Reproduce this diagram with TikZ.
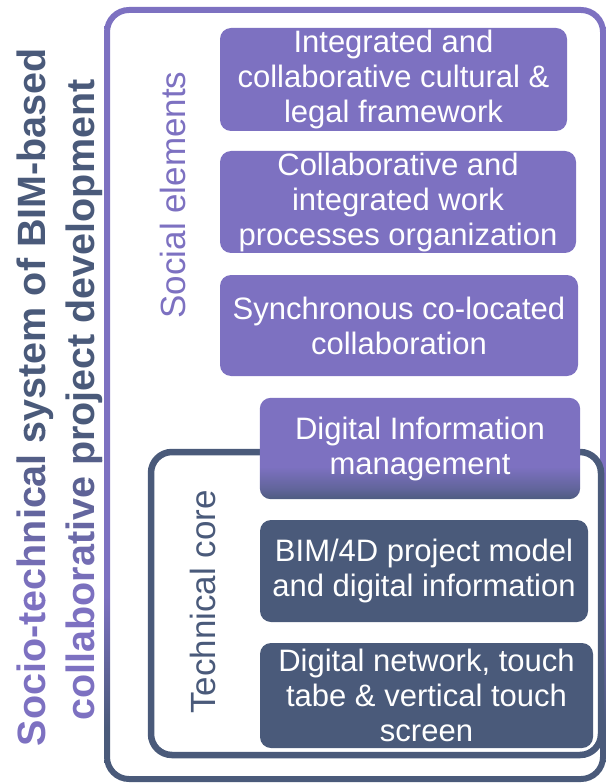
\documentclass[tikz,border=0pt]{standalone}
\usepackage{fontspec}
\setmainfont{Liberation Sans}
\definecolor{purp}{HTML}{7D71C1}
\definecolor{slate}{HTML}{4A5A7A}
% path bounding box maps onto 25bp..75bp of the shading
\pgfdeclareverticalshading{frameshade}{100bp}{color(0bp)=(slate); color(28.5bp)=(slate); color(37bp)=(purp); color(100bp)=(purp)}
\pgfdeclareverticalshading{dimshade}{100bp}{color(0bp)=(slate); color(25bp)=(slate!92!purp); color(30bp)=(slate!55!purp); color(41bp)=(purp); color(100bp)=(purp)}
\pgfdeclarelayer{background}
\pgfsetlayers{background,main}
\tikzset{
  box/.style={rounded corners=11pt, inner sep=0pt, text=white, align=center,
    font=\fontsize{31}{35}\selectfont},
  titlefont/.style={font=\fontsize{39.5}{44}\selectfont\bfseries, rotate=90, anchor=base, inner sep=0pt},
  sidelabel/.style={font=\fontsize{35}{40}\selectfont, rotate=90, anchor=base, inner sep=0pt},
}
\newcommand\titlelines[1]{%
  \node[titlefont, text=#1] (tA) at (45,397) {Socio-technical system of BIM-based};
  \node[titlefont, text=#1] (tB) at (94,400) {collaborative project development};}
\begin{document}
\begin{tikzpicture}[x=1pt, y=-1pt]
\useasboundingbox (0,0) rectangle (605,783);
\begin{pgfonlayer}{background}
% outer frame
\shade[shading=frameshade, even odd rule]
  [rounded corners=25pt] (104,7) rectangle (606,782)
  [rounded corners=19pt] (110,13) rectangle (600,776);
% technical core frame
\draw[slate, line width=6.5pt, rounded corners=21pt] (151,452) rectangle (601,755);
\end{pgfonlayer}
% title with gradient
\begin{scope}
  \clip (0,0) rectangle (140,420);
  \titlelines{slate}
\end{scope}
\begin{scope}
  \clip (0,600) rectangle (140,783);
  \titlelines{purp}
\end{scope}
\foreach \i in {0,...,17}{
  \pgfmathtruncatemacro\pct{\i*100/17}
  \pgfmathsetmacro\ya{420+10*\i}
  \pgfmathsetmacro\yb{430+10*\i}
  \colorlet{bandc}{purp!\pct!slate}
  \begin{scope}
    \clip (0,\ya) rectangle (140,\yb);
    \titlelines{bandc}
  \end{scope}
}
% side labels
\node[sidelabel, text=purp] (soc) at (185,195) {Social elements};
\node[sidelabel, text=slate] (tec) at (215,602) {Technical core};
% boxes
\node[box, fill=purp, minimum width=347pt, minimum height=103pt] (b1) at (393.5,79.5)
  {Integrated and\\collaborative cultural \&\\legal framework};
\node[box, fill=purp, minimum width=356pt, minimum height=102pt] (b2) at (398,202)
  {Collaborative and\\integrated work\\processes organization};
\node[box, fill=purp, minimum width=358pt, minimum height=101pt] (b3) at (399,325.5)
  {Synchronous co-located\\collaboration};
\node[box, minimum width=320pt, minimum height=101pt] (b4) at (420,448.5)
  {Digital Information\\management};
\begin{pgfonlayer}{background}
\shade[shading=dimshade, rounded corners=11pt] (b4.south west) rectangle (b4.north east);
\end{pgfonlayer}
\node[box, fill=slate, minimum width=328pt, minimum height=102pt] (b5) at (424,571)
  {BIM/4D project model\\and digital information};
\node[box, fill=slate, minimum width=333pt, minimum height=105pt] (b6) at (426.5,695.5)
  {Digital network, touch\\tabe \& vertical touch\\screen};
\end{tikzpicture}
\end{document}
